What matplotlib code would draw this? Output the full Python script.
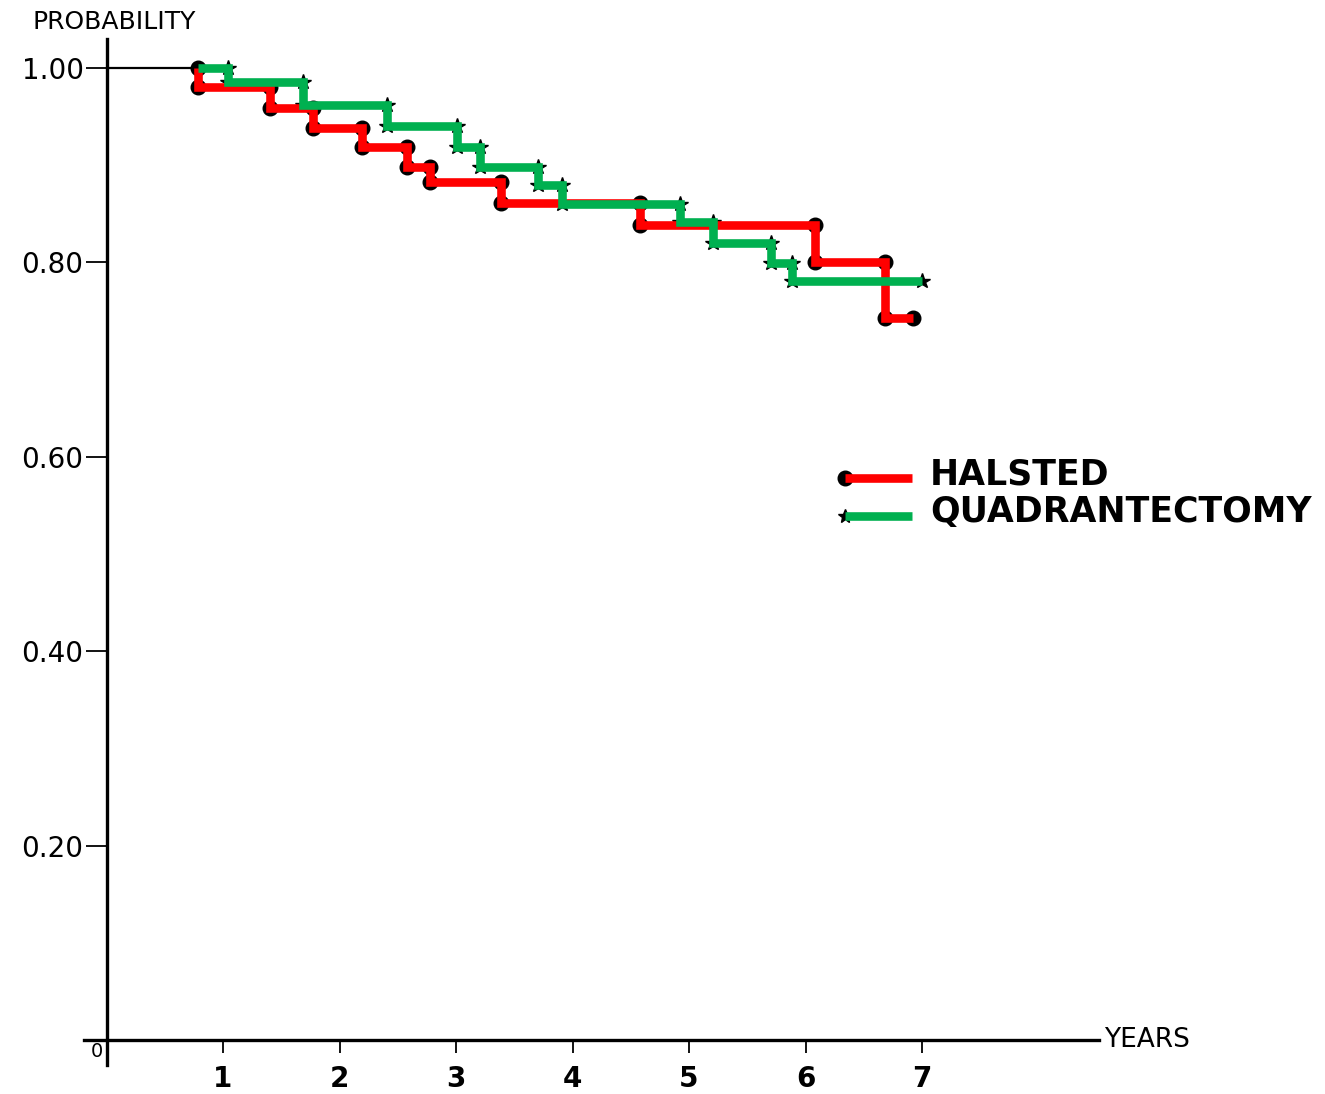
import matplotlib
matplotlib.use("Agg")
import matplotlib.pyplot as plt
from matplotlib.lines import Line2D

# survival estimates
start_time = 0.785
halsted_times = [0.785, 1.40, 1.77, 2.19, 2.58, 2.78, 3.39, 4.58, 6.08, 6.68]
halsted_surv = [0.980, 0.959, 0.938, 0.919, 0.898, 0.883, 0.861, 0.838, 0.800, 0.743]
halsted_end = 6.92

quad_times = [1.04, 1.69, 2.41, 3.01, 3.21, 3.70, 3.91, 4.92, 5.21, 5.70, 5.88]
quad_surv = [0.986, 0.962, 0.940, 0.919, 0.898, 0.880, 0.860, 0.842, 0.820, 0.799, 0.781]
quad_end = 7.00

x_ticks = [1, 2, 3, 4, 5, 6, 7]
y_ticks = [0.20, 0.40, 0.60, 0.80, 1.00]

RED = "#FF0000"
GREEN = "#00B050"

W, H = 1325, 1094
x0_px, xs_px = 106.5, 116.5
y0_px, ys_px = 1040, 972
xlim = (-0.19, 8.52)
ylim = (-0.026, 1.03)

fig = plt.figure(figsize=(W / 100, H / 100), dpi=100)
left = (x0_px + xlim[0] * xs_px) / W
right = (x0_px + xlim[1] * xs_px) / W
bottom = (H - (y0_px - ylim[0] * ys_px)) / H
top = (H - (y0_px - ylim[1] * ys_px)) / H
ax = fig.add_axes([left, bottom, right - left, top - bottom])
ax.set_xlim(*xlim)
ax.set_ylim(*ylim)

for s in ["top", "right"]:
    ax.spines[s].set_visible(False)
for s in ["left", "bottom"]:
    ax.spines[s].set_position(("data", 0))
    ax.spines[s].set_linewidth(2.4)
    ax.spines[s].set_color("black")


def curve(times, surv, end):
    xs = [start_time] + times + [end]
    ys = [1.0] + surv + [surv[-1]]
    prev = [1.0] + surv[:-1]
    mx = times + times + [end]
    my = prev + surv + [surv[-1]]
    return xs, ys, mx, my


# black lead-in at 1.00 before the first event
ax.plot([0, start_time], [1.0, 1.0], color="black", lw=1.6, zorder=2)

hx, hy, hmx, hmy = curve(halsted_times, halsted_surv, halsted_end)
qx, qy, qmx, qmy = curve(quad_times, quad_surv, quad_end)

ax.plot(hmx, hmy, "o", color="black", ms=10.5, zorder=3, clip_on=False)
ax.plot(qmx, qmy, "*", color="black", ms=11.5, zorder=3, clip_on=False)
ax.step(hx, hy, where="post", color=RED, lw=6.2, zorder=4,
        solid_joinstyle="miter", solid_capstyle="butt")
ax.step(qx, qy, where="post", color=GREEN, lw=6.2, zorder=5,
        solid_joinstyle="miter", solid_capstyle="butt")

ax.set_yticks(y_ticks)
ax.set_yticklabels([f"{v:.2f}" for v in y_ticks])
ax.set_xticks(x_ticks)
ax.set_xticklabels([str(v) for v in x_ticks], fontweight="bold")
ax.tick_params(axis="y", direction="out", length=15, width=1.3, pad=1.5,
               labelsize=20)
ax.tick_params(axis="x", direction="out", length=9, width=1.3, pad=9,
               labelsize=20)

ax.text(0.07, 1.047, "PROBABILITY", fontsize=18, ha="center", va="center",
        clip_on=False)
ax.text(8.56, 0.0, "YEARS", fontsize=19, ha="left", va="center", clip_on=False)
ax.text(-0.08, -0.012, "0", fontsize=14, ha="center", va="center", clip_on=False)


# legend keys, placed in figure pixels
def px(x, y):
    return x / W, 1 - y / H


for ypix, col, mk, label in [(478, RED, "o", "HALSTED"),
                             (516, GREEN, "*", "QUADRANTECTOMY")]:
    (ax0, ay), (ax1, _) = px(845, ypix), px(912, ypix)
    fig.add_artist(Line2D([ax0], [ay], marker=mk, color="black",
                          ms=10.5, transform=fig.transFigure, zorder=3))
    fig.add_artist(Line2D([ax0, ax1], [ay, ay], color=col, lw=6.2,
                          transform=fig.transFigure, zorder=4,
                          solid_capstyle="butt"))
    tx, ty = px(930, ypix - 4)
    fig.text(tx, ty, label, fontsize=25, fontweight="bold",
             ha="left", va="center")

fig.savefig("out.png", dpi=100, facecolor="white")
